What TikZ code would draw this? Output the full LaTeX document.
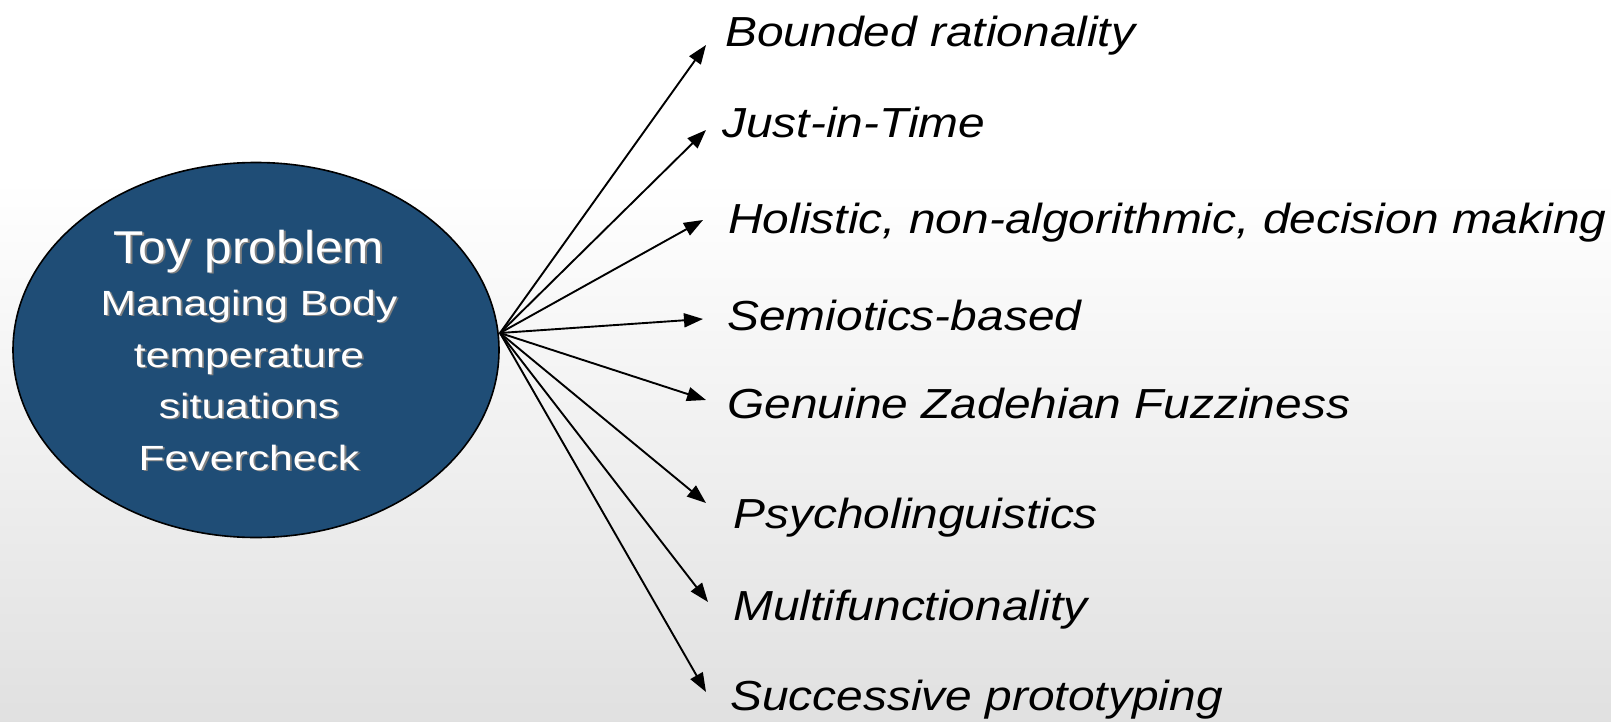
\documentclass[tikz,border=0pt]{standalone}
\usepackage{fontspec}
\setmainfont{Liberation Sans}
\newfontfamily\featurefont[FakeStretch=1.14]{Liberation Sans}
\newfontfamily\toyfont[FakeStretch=1.22]{Liberation Sans}
\newfontfamily\toptoyfont[FakeStretch=1.08]{Liberation Sans}
\usetikzlibrary{shapes.geometric,arrows.meta}
\definecolor{toyblue}{RGB}{31,77,118}
\tikzset{
  feature/.style={anchor=base west,inner sep=0pt,
    font=\featurefont\fontsize{21}{25}\selectfont\itshape},
  toyline/.style={anchor=base,inner sep=0pt,text=white},
  toyoval/.style={ellipse,draw=black,line width=0.8pt,fill=toyblue,
    minimum width=243pt,minimum height=187.5pt,inner sep=0pt},
}
% white text with a grey drop shadow: name, x, baseline, font, text
\newcommand{\shadowline}[5]{%
  \node[toyline,text=black!50,font=#4] at (#2+1.8,#3+1.8) {#5};
  \node[toyline,font=#4] (#1) at (#2,#3) {#5};}
\begin{document}
\begin{tikzpicture}[x=0.5pt,y=-0.5pt]
      \useasboundingbox (0,0) rectangle (1611,722);
      \fill[white] (0,0) rectangle (1611,722);
      \shade[top color=white,bottom color=black!12] (0,180) rectangle (1611,722);
      \node[toyoval] (toy) at (256,350) {};
      \shadowline{toy1}{249}{263}{\toptoyfont\fontsize{23}{23}\selectfont}{Toy problem}
      \shadowline{toy2}{249}{315}{\toyfont\fontsize{17.5}{21}\selectfont}{Managing Body}
      \shadowline{toy3}{249}{367}{\toyfont\fontsize{17.5}{21}\selectfont}{temperature}
      \shadowline{toy4}{249}{418}{\toyfont\fontsize{17.5}{21}\selectfont}{situations}
      \shadowline{toy5}{249}{470}{\toyfont\fontsize{17.5}{21}\selectfont}{Fevercheck}
      \coordinate (src) at (500,333);
      \node[feature] (f1) at (725,47) {Bounded rationality};
      \node[feature] (f2) at (722,138) {Just-in-Time};
      \node[feature] (f3) at (728,233) {Holistic, non-algorithmic, decision making};
      \node[feature] (f4) at (727,330) {Semiotics-based};
      \node[feature] (f5) at (727,418) {Genuine Zadehian Fuzziness};
      \node[feature] (f6) at (733,528) {Psycholinguistics};
      \node[feature] (f7) at (733,620) {Multifunctionality};
      \node[feature] (f8) at (730,710) {Successive prototyping};
      \coordinate (t1) at (706,45);
      \coordinate (t2) at (706,130);
      \coordinate (t3) at (703,220);
      \coordinate (t4) at (703,319);
      \coordinate (t5) at (706,400);
      \coordinate (t6) at (706,503);
      \coordinate (t7) at (708,602);
      \coordinate (t8) at (706,692);
      \begin{scope}[-{Triangle[length=9.5pt,width=7pt]},line width=0.95pt]
        \draw (src) to (t1);
        \draw (src) to (t2);
        \draw (src) to (t3);
        \draw (src) to (t4);
        \draw (src) to (t5);
        \draw (src) to (t6);
        \draw (src) to (t7);
        \draw (src) to (t8);
      \end{scope}
    \end{tikzpicture}
\end{document}
